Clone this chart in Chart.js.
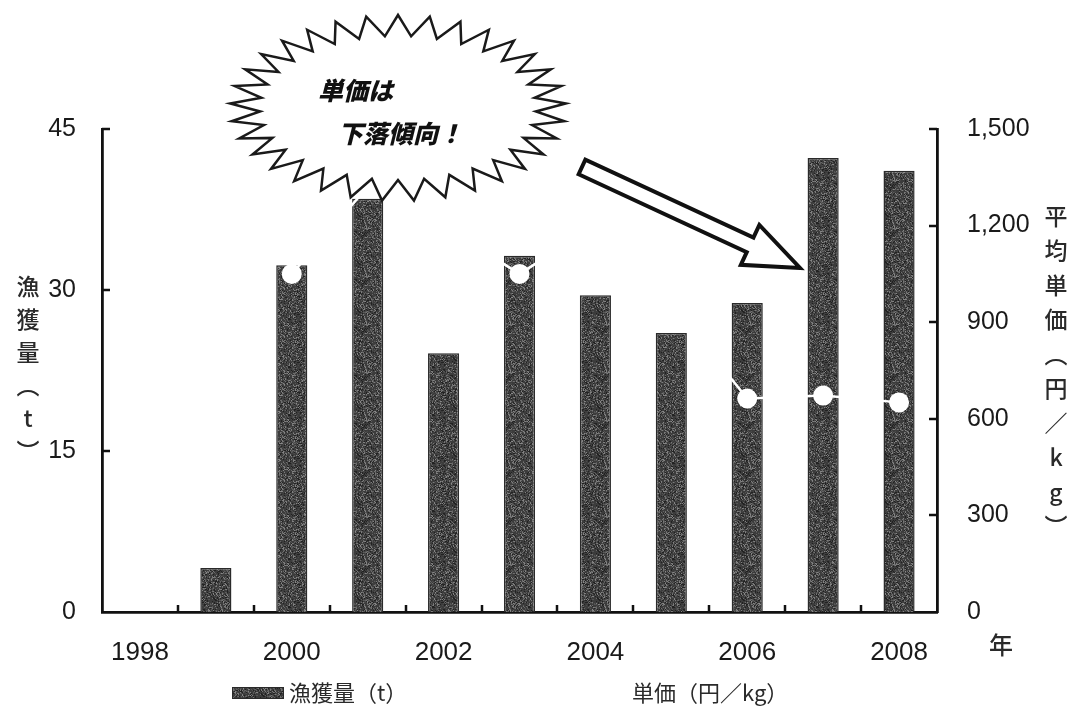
<!DOCTYPE html>
<html lang="ja">
<head>
<meta charset="utf-8">
<title>漁獲量と単価の推移</title>
<script src="https://cdn.jsdelivr.net/npm/chart.js@4.4.1/dist/chart.umd.min.js"></script>
<style>
  html, body { margin: 0; padding: 0; background: #fff; }
  #wrap { width: 1073px; height: 706px; position: relative; }
</style>
</head>
<body>
<div id="wrap"><canvas id="c" width="1073" height="706"></canvas></div>
<script>
// 年
const years = ['1998', '1999', '2000', '2001', '2002', '2003', '2004', '2005', '2006', '2007', '2008'];
// 漁獲量 (t)
const catchTons = [null, 4.1, 32.3, 38.5, 24.1, 33.2, 29.5, 26.0, 28.8, 42.3, 41.1];
// 平均単価 (円/kg)
const unitPrice = [null, null, 1050, 1320, 1200, 1050, 1200, 955, 663, 672, 651];
// 目盛
const leftTicks = [0, 15, 30, 45];
const rightTicks = [0, 300, 600, 900, 1200, 1500];

const JP = '"Noto Sans CJK JP", "Noto Sans", sans-serif';
const NUM = '"Liberation Sans", Arial, sans-serif';
const INK = '#1a1a1a';

// grainy dark fill for the bars
function makeGrain() {
  const c = document.createElement('canvas');
  c.width = 48; c.height = 48;
  const g = c.getContext('2d');
  g.fillStyle = '#3c3c3c';
  g.fillRect(0, 0, 48, 48);
  const h = n => { const s = Math.sin(n * 12.9898 + 78.233) * 43758.5453; return s - Math.floor(s); };
  for (let y = 0; y < 48; y++) {
    for (let x = 0; x < 48; x++) {
      const v = h(x * 57 + y * 131);
      if (v > 0.64) {
        const shade = Math.round(66 + (v - 0.64) * 200);
        g.fillStyle = `rgb(${shade},${shade},${shade})`;
        g.fillRect(x, y, 1, 1);
      } else if (v < 0.14) {
        g.fillStyle = '#222';
        g.fillRect(x, y, 1, 1);
      }
    }
  }
  return c;
}
const grainCanvas = makeGrain();
const ctx0 = document.getElementById('c').getContext('2d');
const grain = ctx0.createPattern(grainCanvas, 'repeat');

// inward tick marks, axis titles, legend and the callout
const decor = {
  id: 'decor',
  afterDraw(chart) {
    const ctx = chart.ctx;
    const x = chart.scales.x, yl = chart.scales.y, yr = chart.scales.y2;
    const L = chart.chartArea.left, R = chart.chartArea.right, B = chart.chartArea.bottom;
    ctx.save();
    ctx.strokeStyle = '#111';
    ctx.lineWidth = 2.5;
    ctx.beginPath();
    leftTicks.forEach(v => {
      if (v === 0) return;
      const py = Math.round(yl.getPixelForValue(v));
      ctx.moveTo(L, py); ctx.lineTo(L + 8, py);
    });
    rightTicks.forEach(v => {
      if (v === 0) return;
      const py = Math.round(yr.getPixelForValue(v));
      ctx.moveTo(R, py); ctx.lineTo(R - 8, py);
    });
    for (let i = 1; i < years.length; i++) {
      const px = Math.round((x.getPixelForValue(i - 1) + x.getPixelForValue(i)) / 2);
      ctx.moveTo(px, B); ctx.lineTo(px, B - 7);
    }
    ctx.stroke();

    // vertical axis titles
    ctx.fillStyle = '#2a2a2a';
    ctx.textAlign = 'center';
    ctx.textBaseline = 'middle';
    ctx.font = '500 23px ' + JP;
    const leftTitle = ['漁', '獲', '量', '︵', 't', '︶'];
    leftTitle.forEach((ch, i) => ctx.fillText(ch, 28, 286 + i * 33));
    const rightTitle = ['平', '均', '単', '価', '︵', '円', '／', 'k', 'g', '︶'];
    rightTitle.forEach((ch, i) => ctx.fillText(ch, 1056, 216 + i * 34.5));
    ctx.font = '500 24px ' + JP;
    ctx.fillText('年', 1001, 645);

    // legend
    ctx.fillStyle = grain;
    ctx.fillRect(232, 687, 52, 12);
    ctx.strokeStyle = '#2a2a2a';
    ctx.lineWidth = 1;
    ctx.strokeRect(232.5, 687.5, 51, 11);
    ctx.fillStyle = '#2a2a2a';
    ctx.textAlign = 'left';
    ctx.font = '22px ' + JP;
    ctx.fillText('漁獲量（t）', 289, 693);
    ctx.fillText('単価（円／kg）', 632, 693);

    // starburst callout
    const cx = 398, cy = 108, n = 33;
    ctx.beginPath();
    for (let i = 0; i < n * 2; i++) {
      const a = -Math.PI / 2 + i * Math.PI / n;
      const outer = i % 2 === 0;
      const rx = outer ? 168 : 138, ry = outer ? 93 : 72;
      const px = cx + rx * Math.cos(a), py = cy + ry * Math.sin(a);
      if (i === 0) ctx.moveTo(px, py); else ctx.lineTo(px, py);
    }
    ctx.closePath();
    ctx.fillStyle = '#fff';
    ctx.fill();
    ctx.strokeStyle = '#1a1a1a';
    ctx.lineWidth = 2.5;
    ctx.lineJoin = 'miter';
    ctx.stroke();

    ctx.fillStyle = '#111';
    ctx.textAlign = 'left';
    ctx.font = 'italic 900 25px ' + JP;
    ctx.fillText('単価は', 318, 90);
    ctx.fillText('下落傾向！', 338, 133);

    // arrow
    const tail = [582, 167], tip = [800, 268];
    const dx = tip[0] - tail[0], dy = tip[1] - tail[1];
    const len = Math.hypot(dx, dy);
    const ux = dx / len, uy = dy / len, nx = -uy, ny = ux;
    const sw = 8, hw = 22, hl = 55;
    const bx = tip[0] - ux * hl, by = tip[1] - uy * hl;
    ctx.beginPath();
    ctx.moveTo(tail[0] + nx * sw, tail[1] + ny * sw);
    ctx.lineTo(bx + nx * sw, by + ny * sw);
    ctx.lineTo(bx + nx * hw, by + ny * hw);
    ctx.lineTo(tip[0], tip[1]);
    ctx.lineTo(bx - nx * hw, by - ny * hw);
    ctx.lineTo(bx - nx * sw, by - ny * sw);
    ctx.lineTo(tail[0] - nx * sw, tail[1] - ny * sw);
    ctx.closePath();
    ctx.fillStyle = '#fff';
    ctx.fill();
    ctx.strokeStyle = '#111';
    ctx.lineWidth = 4;
    ctx.stroke();
    ctx.restore();
  }
};

new Chart(ctx0, {
  data: {
    labels: years,
    datasets: [
      {
        type: 'line',
        label: '単価(円/kg)',
        data: unitPrice,
        yAxisID: 'y2',
        order: 0,
        borderColor: '#fff',
        borderWidth: 2.5,
        tension: 0,
        pointRadius: 10,
        pointBackgroundColor: '#fff',
        pointBorderWidth: 0,
        spanGaps: false
      },
      {
        type: 'bar',
        label: '漁獲量(t)',
        data: catchTons,
        yAxisID: 'y',
        order: 1,
        backgroundColor: grain,
        borderColor: '#2a2a2a',
        borderWidth: 1.5,
        categoryPercentage: 1,
        barPercentage: 0.41
      }
    ]
  },
  options: {
    responsive: false,
    animation: false,
    layout: { padding: { top: 129, left: 0, right: 0, bottom: 0 } },
    plugins: {
      legend: { display: false },
      tooltip: { enabled: false }
    },
    scales: {
      x: {
        offset: true,
        grid: { display: false, offset: true },
        border: { display: true, color: '#111', width: 2.8 },
        ticks: {
          autoSkip: false,
          maxRotation: 0,
          padding: 17,
          color: INK,
          font: { family: NUM, size: 26 },
          callback: (v, i) => (i % 2 === 0 ? years[i] : '')
        },
        afterFit: s => { s.height = 94; }
      },
      y: {
        position: 'left',
        min: 0, max: 45,
        afterBuildTicks: s => { s.ticks = leftTicks.map(v => ({ value: v })); },
        grid: { display: false },
        border: { display: true, color: '#111', width: 2.8 },
        ticks: { padding: 18, color: INK, font: { family: NUM, size: 25 } },
        afterFit: s => { s.width = 102; }
      },
      y2: {
        position: 'right',
        min: 0, max: 1500,
        afterBuildTicks: s => { s.ticks = rightTicks.map(v => ({ value: v })); },
        grid: { display: false },
        border: { display: true, color: '#111', width: 2.8 },
        ticks: {
          padding: 22,
          color: INK,
          font: { family: NUM, size: 25 },
          callback: v => v.toLocaleString('en-US')
        },
        afterFit: s => { s.width = 136; }
      }
    }
  },
  plugins: [decor]
});
</script>
</body>
</html>
